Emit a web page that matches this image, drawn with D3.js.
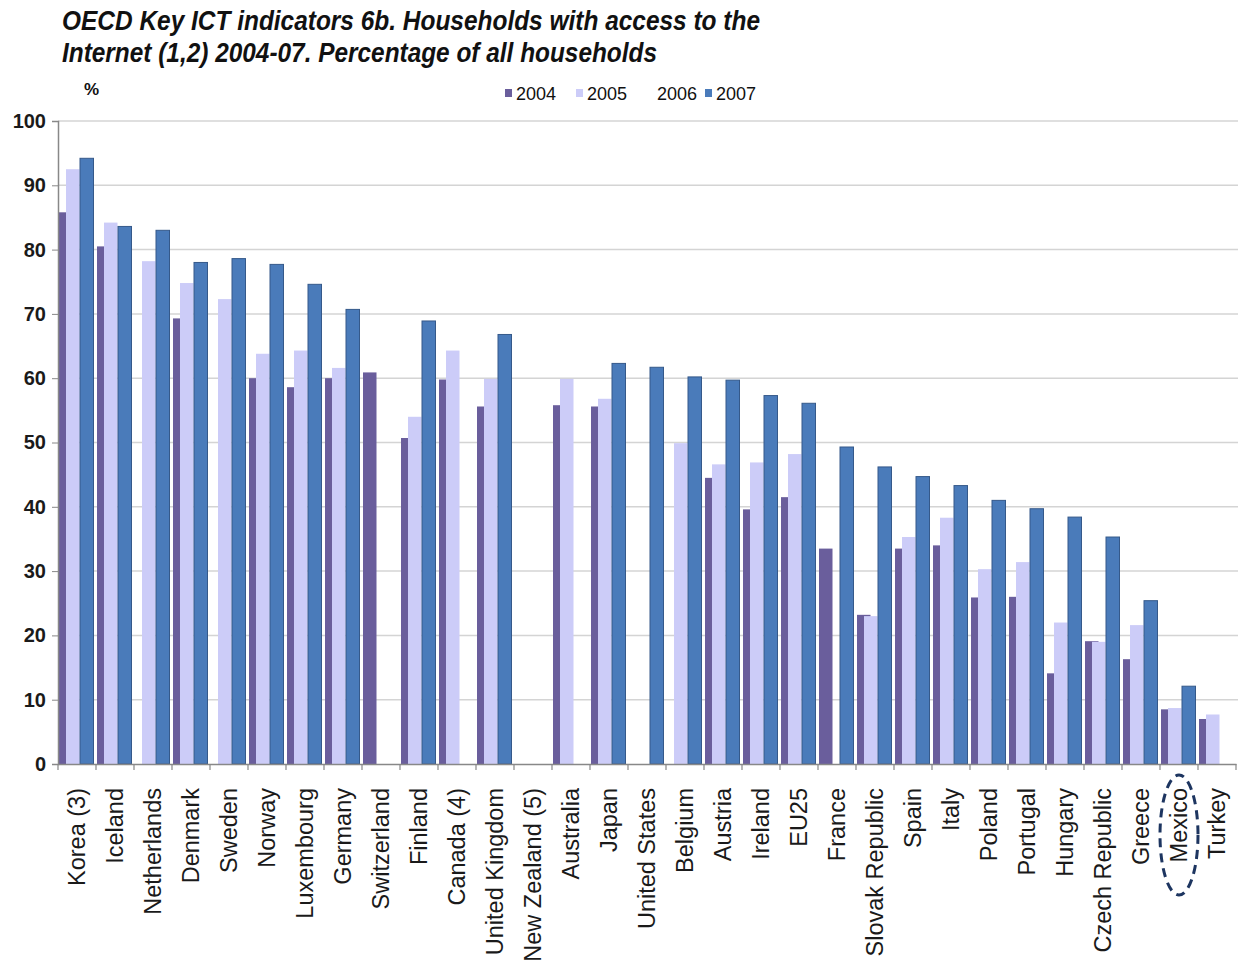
<!DOCTYPE html>
<html><head><meta charset="utf-8">
<script src="https://cdn.jsdelivr.net/npm/d3@7"></script>
<style>html,body{margin:0;padding:0;background:#fff;}svg{display:block;}</style>
</head><body>
<svg id="chart" width="1242" height="969"></svg>
<script>
const categories = ["Korea (3)","Iceland","Netherlands","Denmark","Sweden","Norway","Luxembourg","Germany","Switzerland","Finland","Canada (4)","United Kingdom","New Zealand (5)","Australia","Japan","United States","Belgium","Austria","Ireland","EU25","France","Slovak Republic","Spain","Italy","Poland","Portugal","Hungary","Czech Republic","Greece","Mexico","Turkey"];
const seriesNames = ["2004","2005","2006","2007"];
const v2004 = [85.8,80.5,null,69.3,null,60.0,58.6,60.0,60.9,50.7,59.8,55.6,null,55.8,55.6,null,null,44.5,39.6,41.5,33.5,23.2,33.5,34.0,25.9,26.0,14.1,19.1,16.3,8.5,7.0];
const v2005 = [92.5,84.2,78.2,74.8,72.3,63.8,64.3,61.6,null,54.0,64.3,59.9,null,59.9,56.8,null,49.9,46.6,46.9,48.2,null,23.0,35.3,38.3,30.3,31.4,22.0,19.0,21.6,8.7,7.7];
const v2006 = [null,null,null,null,null,null,null,null,null,null,null,null,null,null,null,null,null,null,null,null,null,null,null,null,null,null,null,null,null,null,null];
const v2007 = [94.2,83.6,83.0,78.0,78.6,77.7,74.6,70.7,null,68.9,null,66.8,null,null,62.3,61.7,60.2,59.7,57.3,56.1,49.3,46.2,44.7,43.3,41.0,39.7,38.4,35.3,25.4,12.1,null];
const yTicks = [0,10,20,30,40,50,60,70,80,90,100];
const titleLines = ["OECD Key ICT indicators 6b. Households with access to the","Internet (1,2) 2004-07. Percentage of all households"];
const highlighted = "Mexico";

const seriesValues = [v2004, v2005, v2006, v2007];
const colors = ["#6a5e9c", "#ccccf8", "#ffffff", "#4a7bba"];
const strokes = ["none", "none", "none", "#35598a"];

const svg = d3.select("#chart");
const font = "'Liberation Sans', Arial, sans-serif";
const m = {left: 58, right: 1236, top: 121, bottom: 764};

const x0 = d3.scaleBand().domain(categories).range([m.left, m.right]).padding(0);
const xOff = d3.scaleLinear().domain([0, 3]).range([1, 22]);
const barW = 13.5;
const y = d3.scaleLinear().domain([0, 100]).range([m.bottom, m.top]);

// gridlines
svg.append("g").selectAll("line").data(yTicks.filter(t => t > 0)).join("line")
  .attr("x1", m.left).attr("x2", m.right + 2)
  .attr("y1", d => y(d)).attr("y2", d => y(d))
  .attr("stroke", "#d4d4d4").attr("stroke-width", 1.5);

// bars
seriesValues.forEach((vals, si) => {
  const data = categories.map((c, i) => ({c, v: vals[i]})).filter(d => d.v != null);
  svg.append("g").selectAll("rect").data(data).join("rect")
    .attr("x", d => x0(d.c) + xOff(si))
    .attr("y", d => y(d.v))
    .attr("width", barW)
    .attr("height", d => y(0) - y(d.v))
    .attr("fill", colors[si])
    .attr("stroke", strokes[si])
    .attr("stroke-width", 1);
});

// y axis
const yAxis = d3.axisLeft(y).tickValues(yTicks).tickSize(6).tickPadding(6);
const gy = svg.append("g").attr("transform", `translate(${m.left},0)`).call(yAxis);
gy.select(".domain").attr("stroke", "#888").attr("stroke-width", 1.5);
gy.selectAll(".tick line").attr("stroke", "#888");
gy.selectAll(".tick text").attr("font-family", font).attr("font-size", 20).attr("font-weight", "bold").attr("fill", "#1a1a1a");

// x axis
const xAxis = d3.axisBottom(x0).tickSize(0).tickFormat("");
const gx = svg.append("g").attr("transform", `translate(0,${m.bottom})`).call(xAxis);
gx.select(".domain").attr("stroke", "#888").attr("stroke-width", 1.5);
const bounds = categories.map(c => x0(c)).concat([m.right]);
svg.append("g").selectAll("line").data(bounds).join("line")
  .attr("x1", d => d).attr("x2", d => d)
  .attr("y1", m.bottom).attr("y2", m.bottom + 6)
  .attr("stroke", "#888").attr("stroke-width", 1.2);

// x labels
svg.append("g").selectAll("text").data(categories).join("text")
  .attr("transform", d => `translate(${x0(d) + x0.bandwidth()/2 + 8},${m.bottom + 24}) rotate(-90)`)
  .attr("text-anchor", "end")
  .attr("font-family", font).attr("font-size", 23.5).attr("fill", "#1a1a1a")
  .text(d => d);

// highlight ellipse
svg.append("ellipse")
  .attr("cx", x0(highlighted) + x0.bandwidth()/2)
  .attr("cy", m.bottom + 71)
  .attr("rx", 19).attr("ry", 60)
  .attr("fill", "none").attr("stroke", "#1d3560").attr("stroke-width", 3)
  .attr("stroke-dasharray", "9,6");

// title
const tw = [698, 595];
svg.append("g").selectAll("text").data(titleLines).join("text")
  .attr("x", 62).attr("y", (d, i) => 30 + i * 32)
  .attr("textLength", (d, i) => tw[i]).attr("lengthAdjust", "spacingAndGlyphs")
  .attr("font-family", font).attr("font-size", 27).attr("font-weight", "bold").attr("font-style", "italic")
  .attr("fill", "#111")
  .text(d => d);

// % label
svg.append("text").attr("x", 84).attr("y", 95).attr("font-family", font).attr("font-size", 17)
  .attr("font-weight", "bold").attr("fill", "#111").text("%");

// legend
const legX = [505, 576, 646, 705];
const lg = svg.append("g").selectAll("g").data(seriesNames).join("g")
  .attr("transform", (d, i) => `translate(${legX[i]},93)`);
lg.append("rect").attr("x", 0).attr("y", -4).attr("width", 7).attr("height", 8)
  .attr("fill", (d, i) => colors[i]);
lg.append("text").attr("x", 11).attr("y", 7).attr("font-family", font).attr("font-size", 18)
  .attr("fill", "#111").text(d => d);
</script>
</body></html>
